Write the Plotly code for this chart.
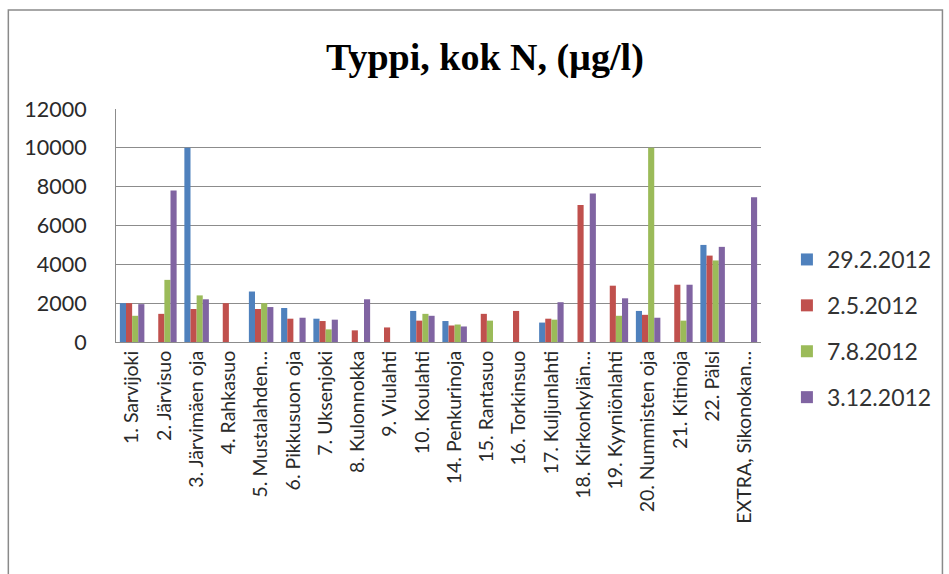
import plotly.graph_objects as go

# Sampling sites and total nitrogen (µg/l) per sampling date
sites = ["1. Sarvijoki", "2. Järvisuo", "3. Järvimäen oja", "4. Rahkasuo",
         "5. Mustalahden…", "6. Pikkusuon oja", "7. Uksenjoki", "8. Kulonnokka",
         "9. Viulahti", "10. Koulahti", "14. Penkurinoja", "15. Rantasuo",
         "16. Torkinsuo", "17. Kuljunlahti", "18. Kirkonkylän…", "19. Kyyniönlahti",
         "20. Nummisten oja", "21. Kitinoja", "22. Pälsi", "EXTRA, Sikonokan…"]

feb_29 = [2000, None, 10000, None, 2600, 1750, 1200, None, None, 1600,
          1080, None, None, 1000, None, None, 1600, None, 5000, None]
may_2 = [2000, 1450, 1700, 2000, 1700, 1200, 1080, 600, 750, 1100,
         850, 1450, 1600, 1200, 7050, 2900, 1400, 2950, 4450, None]
aug_7 = [1350, 3200, 2400, None, 2000, None, 650, None, None, 1450,
         900, 1100, None, 1150, None, 1350, 10000, 1100, 4200, None]
dec_3 = [1950, 7800, 2200, None, 1800, 1250, 1150, 2200, None, 1350,
         800, None, None, 2050, 7650, 2250, 1250, 2950, 4900, 7450]

series = [("29.2.2012", feb_29, "#4F81BD"),
          ("2.5.2012", may_2, "#C0504D"),
          ("7.8.2012", aug_7, "#9BBB59"),
          ("3.12.2012", dec_3, "#8064A2")]

y_ticks = [0, 2000, 4000, 6000, 8000, 10000, 12000]

fig = go.Figure()
for i, (name, vals, col) in enumerate(series):
    fig.add_trace(go.Bar(x=sites, y=vals, name=name, marker_color=col,
                         marker_line_width=0, legendgroup=f"g{i}"))

font_family = "Lato, 'Open Sans', sans-serif"
fig.update_layout(
    width=949, height=574,
    margin=dict(l=116, r=186, t=109, b=232),
    paper_bgcolor="white", plot_bgcolor="white",
    barmode="group", bargap=0.24, bargroupgap=0,
    title=dict(text="<b>Typpi, kok N, (µg/l)</b>", x=(486 - 116) / 647, xref="paper",
               xanchor="center", y=1 - 57 / 574, yanchor="middle",
               font=dict(family="'Liberation Serif', 'DejaVu Serif', serif",
                         size=38, color="#000000")),
    font=dict(family=font_family, color="#2A2A2A"),
    legend=dict(x=(789 - 116) / 647, xanchor="left", y=(342 - 238) / 233, yanchor="top",
                font=dict(size=23, color="#333333"), tracegroupgap=13,
                traceorder="grouped", bgcolor="rgba(0,0,0,0)"),
    showlegend=True,
)
fig.update_yaxes(range=[0, 12000], tickvals=y_ticks, ticktext=[str(v) for v in y_ticks],
                 showgrid=True, gridcolor="#8C8C8C", gridwidth=1,
                 showline=True, linecolor="#8C8C8C", linewidth=1,
                 ticks="", ticklabelstandoff=24,
                 tickfont=dict(size=21.5, color="#2A2A2A"), zeroline=False)
fig.update_xaxes(showline=True, linecolor="#8C8C8C", linewidth=1,
                 tickangle=-90, tickfont=dict(size=19.5, color="#2A2A2A"),
                 ticks="", showgrid=False, automargin=False)

# outer chart frame (bottom edge runs past the page)
fig.add_shape(type="rect", xref="paper", yref="paper",
              x0=-108 / 647, x1=1 + 182 / 647, y0=-260 / 233, y1=1 + 99 / 233,
              line=dict(color="#8A8A8A", width=1.5), fillcolor="rgba(0,0,0,0)")

fig.write_html("out.html")
